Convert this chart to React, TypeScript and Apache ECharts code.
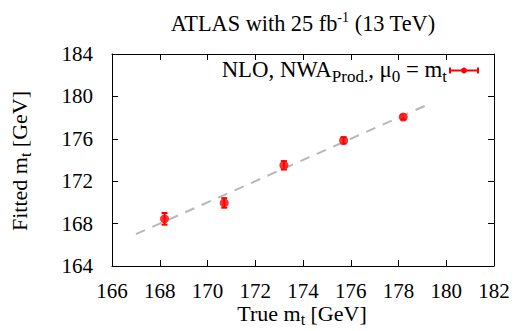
import React, { useEffect, useRef } from "react";
import * as echarts from "echarts";

const trueMass = [168.2, 170.7, 173.2, 175.7, 178.2];
const fittedMass = [168.45, 169.95, 173.5, 175.85, 178.05];
const fittedErr = [0.55, 0.45, 0.4, 0.3, 0.22];
const diagonal = [
  [167.0, 167.0],
  [179.2, 179.2],
];
const xTicks = { min: 166, max: 182, step: 2 };
const yTicks = { min: 164, max: 184, step: 4 };

const FONT = "'Liberation Serif', 'Times New Roman', serif";

export default function App() {
  const ref = useRef<HTMLDivElement>(null);
  useEffect(() => {
    if (!ref.current) return;
    const chart = echarts.init(ref.current, null, { renderer: "svg" });
    const axisCommon = {
      axisLine: { show: true, onZero: false, lineStyle: { color: "#000", width: 1 } },
      axisTick: { show: true, inside: true, length: 6, lineStyle: { color: "#000" } },
      splitLine: { show: false },
    };
    const points = trueMass.map((x, i) => [x, fittedMass[i], fittedErr[i]]);
    const main = { fontFamily: FONT, fontSize: 22, fill: "#000" };
    const sub = { fontFamily: FONT, fontSize: 16, fill: "#000", padding: [12, 0, 0, 0] };
    const lmain = { fontFamily: FONT, fontSize: 22.8, fill: "#000" };
    const lsub = { fontFamily: FONT, fontSize: 17, fill: "#000", padding: [14, 0, 0, 0] };
    chart.setOption({
      animation: false,
      textStyle: { fontFamily: FONT },
      grid: { left: 112, right: 20, top: 54, bottom: 65 },
      xAxis: [
        {
          type: "value",
          min: xTicks.min,
          max: xTicks.max,
          interval: xTicks.step,
          position: "bottom",
          ...axisCommon,
          axisLabel: { fontFamily: FONT, fontSize: 21, color: "#000", margin: 14 },
        },
        {
          type: "value",
          min: xTicks.min,
          max: xTicks.max,
          interval: xTicks.step,
          position: "top",
          ...axisCommon,
          axisLabel: { show: false },
        },
      ],
      yAxis: [
        {
          type: "value",
          min: yTicks.min,
          max: yTicks.max,
          interval: yTicks.step,
          position: "left",
          ...axisCommon,
          axisLabel: { fontFamily: FONT, fontSize: 21, color: "#000", margin: 19 },
        },
        {
          type: "value",
          min: yTicks.min,
          max: yTicks.max,
          interval: yTicks.step,
          position: "right",
          ...axisCommon,
          axisLabel: { show: false },
        },
      ],
      series: [
        {
          type: "line",
          data: diagonal,
          symbol: "none",
          lineStyle: { color: "#b8b8b8", width: 2, type: [10, 8] },
          silent: true,
        },
        {
          type: "custom",
          data: points,
          renderItem: (params: any, api: any) => {
            const x = api.value(0);
            const y = api.value(1);
            const e = api.value(2);
            const top = api.coord([x, y + e]);
            const bot = api.coord([x, y - e]);
            const cap = 3;
            const style = { stroke: "#ff0000", lineWidth: 2 };
            return {
              type: "group",
              children: [
                { type: "line", shape: { x1: top[0], y1: top[1], x2: bot[0], y2: bot[1] }, style },
                { type: "line", shape: { x1: top[0] - cap, y1: top[1], x2: top[0] + cap, y2: top[1] }, style },
                { type: "line", shape: { x1: bot[0] - cap, y1: bot[1], x2: bot[0] + cap, y2: bot[1] }, style },
              ],
            };
          },
          z: 3,
        },
        {
          type: "scatter",
          data: points.map((p) => [p[0], p[1]]),
          symbol: "circle",
          symbolSize: 9,
          itemStyle: { color: "#ff0000" },
          z: 4,
        },
      ],
      graphic: [
        {
          type: "text",
          x: 303,
          y: 23,
          style: {
            text: "{a|ATLAS with 25 fb}{sup|-1}{a| (13 TeV)}",
            align: "center",
            verticalAlign: "middle",
            rich: {
              a: { fontFamily: FONT, fontSize: 22.3, fill: "#000" },
              sup: { fontFamily: FONT, fontSize: 14, fill: "#000", padding: [0, 0, 11, 0] },
            },
          },
        },
        {
          type: "text",
          x: 302,
          y: 313,
          style: {
            text: "{a|True m}{sub|t}{a| [GeV]}",
            align: "center",
            verticalAlign: "middle",
            rich: { a: main, sub },
          },
        },
        {
          type: "text",
          x: 19,
          y: 161,
          rotation: Math.PI / 2,
          style: {
            text: "{a|Fitted m}{sub|t}{a| [GeV]}",
            align: "center",
            verticalAlign: "middle",
            rich: { a: main, sub },
          },
        },
        {
          type: "text",
          x: 447,
          y: 69,
          style: {
            text: "{a|NLO, NWA}{sub|Prod.}{a|, μ}{sub|0}{a| = m}{sub|t}",
            align: "right",
            verticalAlign: "middle",
            rich: { a: lmain, sub: lsub },
          },
        },
        { type: "line", shape: { x1: 450, y1: 70.5, x2: 478, y2: 70.5 }, style: { stroke: "#ff0000", lineWidth: 2 } },
        { type: "line", shape: { x1: 450, y1: 67.5, x2: 450, y2: 73.5 }, style: { stroke: "#ff0000", lineWidth: 2 } },
        { type: "line", shape: { x1: 478, y1: 67.5, x2: 478, y2: 73.5 }, style: { stroke: "#ff0000", lineWidth: 2 } },
        { type: "circle", shape: { cx: 464, cy: 70.5, r: 3 }, style: { fill: "#ff0000" } },
      ],
    });
    return () => chart.dispose();
  }, []);
  return (
    <div
      ref={ref}
      style={{ position: "fixed", left: 0, top: 0, width: 514, height: 331, background: "#fff" }}
    />
  );
}
